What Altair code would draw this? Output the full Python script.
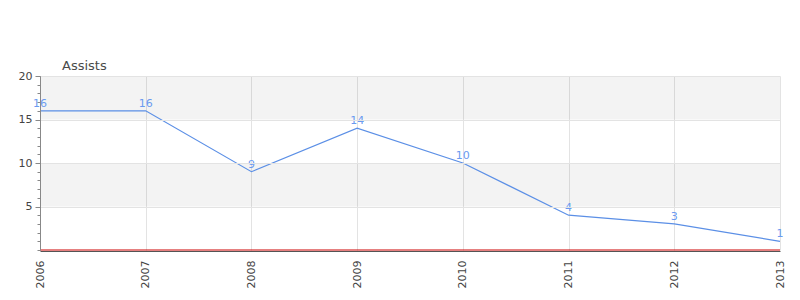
import altair as alt
import pandas as pd

years = [2006, 2007, 2008, 2009, 2010, 2011, 2012, 2013]
assists = [16, 16, 9, 14, 10, 4, 3, 1]
band_lo = [5, 15]
band_hi = [10, 20]
major_ticks = [5, 10, 15, 20]
minor_ticks = list(range(0, 21))
chart_title = ["Assists"]

df = pd.DataFrame({"year": years, "assists": assists})
bands = pd.DataFrame({"lo": band_lo, "hi": band_hi})
zero = pd.DataFrame({"v": [0]})

xscale = alt.Scale(domain=[2006, 2013], nice=False, zero=False)
yscale = alt.Scale(domain=[0, 20], nice=False)

xaxis = alt.Axis(values=years, format="d", labelAngle=270, labelAlign="right",
                 labelBaseline="middle", labelPadding=9, ticks=False,
                 grid=True, gridColor="#e3e3e3", domainColor="#555555",
                 domainWidth=1.2, labelColor="#444444", labelFontSize=11,
                 labelFont="DejaVu Sans", title=None, offset=1)

band_layer = alt.Chart(bands).mark_rect(color="#000000", opacity=0.048).encode(
    y=alt.Y("lo:Q", scale=yscale,
            axis=alt.Axis(values=major_ticks, tickSize=5, tickColor="#888888",
                          domainColor="#888888", grid=True, gridColor="#e3e3e3",
                          labelColor="#444444", labelFontSize=11,
                          labelFont="DejaVu Sans", labelPadding=3, title=None,
                          orient="left", zindex=1)),
    y2="hi:Q",
    x=alt.value(0),
    x2=alt.value(740),
)

minor_layer = alt.Chart(pd.DataFrame({"m": minor_ticks})).mark_point(opacity=0).encode(
    y=alt.Y("m:Q", scale=yscale,
            axis=alt.Axis(values=minor_ticks, tickSize=3, tickColor="#888888",
                          labels=False, domain=False, grid=False, title=None,
                          orient="left", zindex=1)),
    x=alt.value(0),
)

line = alt.Chart(df).mark_line(color="#5b8fe6", strokeWidth=1.2).encode(
    x=alt.X("year:Q", scale=xscale, axis=xaxis),
    y=alt.Y("assists:Q", scale=yscale, axis=None),
)

labels = alt.Chart(df).mark_text(color="#6a9af0", fontSize=11, font="DejaVu Sans",
                                 baseline="bottom", dy=-2).encode(
    x=alt.X("year:Q", scale=xscale),
    y=alt.Y("assists:Q", scale=yscale, axis=None),
    text="assists:Q",
)

red = alt.Chart(zero).mark_rule(color="#cc0000", strokeWidth=1).encode(
    y=alt.Y("v:Q", scale=yscale, axis=None),
    x=alt.value(0),
    x2=alt.value(740),
)

title = alt.Chart(pd.DataFrame({"t": chart_title})).mark_text(
    align="left", baseline="alphabetic", fontSize=13, font="DejaVu Sans",
    color="#4a4a4a").encode(
    text="t:N", x=alt.value(22), y=alt.value(-6))

chart = alt.layer(band_layer, minor_layer, line, red, labels, title).resolve_axis(
    y="independent"
).properties(
    width=740,
    height=174,
    padding={"left": 40, "top": 76, "right": 20, "bottom": 50},
    autosize=alt.AutoSizeParams(type="none"),
).configure_view(stroke=None)

chart.save("out.html", embed_options={"renderer": "svg", "actions": False})
